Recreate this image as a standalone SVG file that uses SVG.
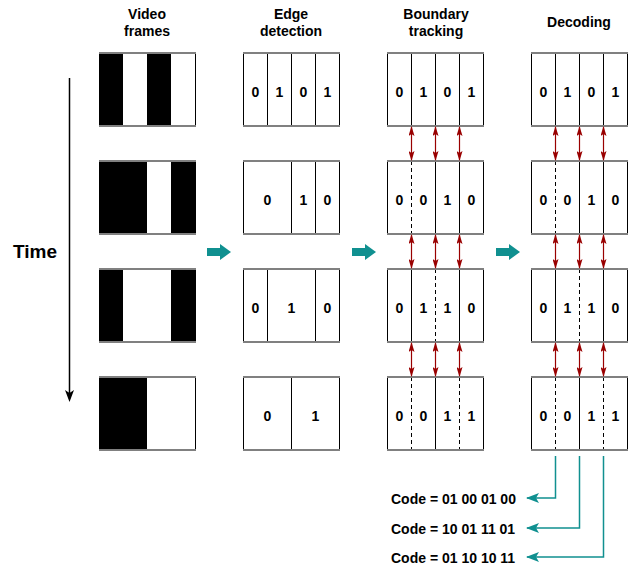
<svg xmlns="http://www.w3.org/2000/svg" width="636" height="568" viewBox="0 0 636 568">
<defs>
<style>
text{font-family:"Liberation Sans",Arial,sans-serif;font-weight:bold;fill:#000}
.hd{font-size:14px;text-anchor:middle}
.dg{font-size:14px;text-anchor:middle}
.cd{font-size:14px}
.tm{font-size:19px}
.bg{fill:#fff}
.bk{fill:#000}
.sd{stroke:#000;stroke-width:1;fill:none}
.ds{stroke:#000;stroke-width:1;fill:none;stroke-dasharray:4,3}
.tb{stroke:#808080;stroke-width:2;fill:none}
.ra{stroke:#990000;stroke-width:1.2;fill:none;marker-start:url(#rh);marker-end:url(#rh)}
.ta{stroke:#109090;stroke-width:1.5;fill:none;marker-end:url(#th)}
.blk{fill:#109090}
</style>
<marker id="rh" viewBox="0 0 10 6" refX="9" refY="3" markerWidth="10" markerHeight="6" markerUnits="userSpaceOnUse" orient="auto-start-reverse">
<path d="M0,0 L10,3 L0,6 L2,3 z" fill="#990000"/>
</marker>
<marker id="th" viewBox="0 0 13 10" refX="12" refY="5" markerWidth="13" markerHeight="10" markerUnits="userSpaceOnUse" orient="auto">
<path d="M0,0 L13,5 L0,10 L3,5 z" fill="#109090"/>
</marker>
</defs>

<g id="headers">
<text class="hd" x="147" y="19">Video</text>
<text class="hd" x="147" y="36">frames</text>
<text class="hd" x="291" y="19">Edge</text>
<text class="hd" x="291" y="36">detection</text>
<text class="hd" x="436" y="19">Boundary</text>
<text class="hd" x="436" y="36">tracking</text>
<text class="hd" x="579" y="27">Decoding</text>
</g>

<g id="time">
<line x1="69.5" y1="78" x2="69.5" y2="394" stroke="#000" stroke-width="1.5"/>
<path d="M65,390 L69.5,393 L74,390 L69.5,402 z" fill="#000"/>
<text class="tm" x="13" y="258">Time</text>
</g>

<!-- Video frames -->
<g id="video-1">
<rect class="bg" x="99" y="53" width="97" height="73"/>
<rect class="bk" x="99" y="53" width="24" height="73"/>
<rect class="bk" x="147" y="53" width="24" height="73"/>
<line class="sd" x1="195.5" y1="53" x2="195.5" y2="126"/>
<line class="tb" x1="99" y1="53" x2="196" y2="53"/>
<line class="tb" x1="99" y1="126" x2="196" y2="126"/>
</g>
<g id="video-2">
<rect class="bg" x="99" y="161" width="97" height="73"/>
<rect class="bk" x="99" y="161" width="48" height="73"/>
<rect class="bk" x="171" y="161" width="25" height="73"/>
<line class="tb" x1="99" y1="161" x2="196" y2="161"/>
<line class="tb" x1="99" y1="234" x2="196" y2="234"/>
</g>
<g id="video-3">
<rect class="bg" x="99" y="269" width="97" height="73"/>
<rect class="bk" x="99" y="269" width="24" height="73"/>
<rect class="bk" x="171" y="269" width="25" height="73"/>
<line class="tb" x1="99" y1="269" x2="196" y2="269"/>
<line class="tb" x1="99" y1="342" x2="196" y2="342"/>
</g>
<g id="video-4">
<rect class="bg" x="99" y="377" width="97" height="73"/>
<rect class="bk" x="99" y="377" width="48" height="73"/>
<line class="sd" x1="195.5" y1="377" x2="195.5" y2="450"/>
<line class="tb" x1="99" y1="377" x2="196" y2="377"/>
<line class="tb" x1="99" y1="450" x2="196" y2="450"/>
</g>

<!-- Edge detection -->
<g id="edge-1">
<path class="sd" d="M243.5,53V126M339.5,53V126M267.5,53V126M291.5,53V126M315.5,53V126"/>
<line class="tb" x1="243" y1="53" x2="340" y2="53"/>
<line class="tb" x1="243" y1="126" x2="340" y2="126"/>
<text class="dg" x="255.5" y="97">0</text><text class="dg" x="279.5" y="97">1</text><text class="dg" x="303.5" y="97">0</text><text class="dg" x="327.5" y="97">1</text>
</g>
<g id="edge-2">
<path class="sd" d="M243.5,161V234M339.5,161V234M291.5,161V234M315.5,161V234"/>
<line class="tb" x1="243" y1="161" x2="340" y2="161"/>
<line class="tb" x1="243" y1="234" x2="340" y2="234"/>
<text class="dg" x="267.5" y="205">0</text><text class="dg" x="303.5" y="205">1</text><text class="dg" x="327.5" y="205">0</text>
</g>
<g id="edge-3">
<path class="sd" d="M243.5,269V342M339.5,269V342M267.5,269V342M315.5,269V342"/>
<line class="tb" x1="243" y1="269" x2="340" y2="269"/>
<line class="tb" x1="243" y1="342" x2="340" y2="342"/>
<text class="dg" x="255.5" y="313">0</text><text class="dg" x="291.5" y="313">1</text><text class="dg" x="327.5" y="313">0</text>
</g>
<g id="edge-4">
<path class="sd" d="M243.5,377V450M339.5,377V450M291.5,377V450"/>
<line class="tb" x1="243" y1="377" x2="340" y2="377"/>
<line class="tb" x1="243" y1="450" x2="340" y2="450"/>
<text class="dg" x="267.5" y="421">0</text><text class="dg" x="315.5" y="421">1</text>
</g>

<!-- Boundary tracking -->
<g id="boundary-1">
<path class="sd" d="M387.5,53V126M483.5,53V126M411.5,53V126M435.5,53V126M459.5,53V126"/>
<line class="tb" x1="387" y1="53" x2="484" y2="53"/>
<line class="tb" x1="387" y1="126" x2="484" y2="126"/>
<text class="dg" x="399.5" y="97">0</text><text class="dg" x="423.5" y="97">1</text><text class="dg" x="447.5" y="97">0</text><text class="dg" x="471.5" y="97">1</text>
</g>
<g id="boundary-2">
<path class="sd" d="M387.5,161V234M483.5,161V234M435.5,161V234M459.5,161V234"/>
<path class="ds" d="M411.5,161V234"/>
<line class="tb" x1="387" y1="161" x2="484" y2="161"/>
<line class="tb" x1="387" y1="234" x2="484" y2="234"/>
<text class="dg" x="399.5" y="205">0</text><text class="dg" x="423.5" y="205">0</text><text class="dg" x="447.5" y="205">1</text><text class="dg" x="471.5" y="205">0</text>
</g>
<g id="boundary-3">
<path class="sd" d="M387.5,269V342M483.5,269V342M411.5,269V342M459.5,269V342"/>
<path class="ds" d="M435.5,269V342"/>
<line class="tb" x1="387" y1="269" x2="484" y2="269"/>
<line class="tb" x1="387" y1="342" x2="484" y2="342"/>
<text class="dg" x="399.5" y="313">0</text><text class="dg" x="423.5" y="313">1</text><text class="dg" x="447.5" y="313">1</text><text class="dg" x="471.5" y="313">0</text>
</g>
<g id="boundary-4">
<path class="sd" d="M387.5,377V450M483.5,377V450M435.5,377V450"/>
<path class="ds" d="M411.5,377V450M459.5,377V450"/>
<line class="tb" x1="387" y1="377" x2="484" y2="377"/>
<line class="tb" x1="387" y1="450" x2="484" y2="450"/>
<text class="dg" x="399.5" y="421">0</text><text class="dg" x="423.5" y="421">0</text><text class="dg" x="447.5" y="421">1</text><text class="dg" x="471.5" y="421">1</text>
</g>

<!-- Decoding -->
<g id="decoding-1">
<path class="sd" d="M531.5,53V126M627.5,53V126M555.5,53V126M579.5,53V126M603.5,53V126"/>
<line class="tb" x1="531" y1="53" x2="628" y2="53"/>
<line class="tb" x1="531" y1="126" x2="628" y2="126"/>
<text class="dg" x="543.5" y="97">0</text><text class="dg" x="567.5" y="97">1</text><text class="dg" x="591.5" y="97">0</text><text class="dg" x="615.5" y="97">1</text>
</g>
<g id="decoding-2">
<path class="sd" d="M531.5,161V234M627.5,161V234M579.5,161V234M603.5,161V234"/>
<path class="ds" d="M555.5,161V234"/>
<line class="tb" x1="531" y1="161" x2="628" y2="161"/>
<line class="tb" x1="531" y1="234" x2="628" y2="234"/>
<text class="dg" x="543.5" y="205">0</text><text class="dg" x="567.5" y="205">0</text><text class="dg" x="591.5" y="205">1</text><text class="dg" x="615.5" y="205">0</text>
</g>
<g id="decoding-3">
<path class="sd" d="M531.5,269V342M627.5,269V342M555.5,269V342M603.5,269V342"/>
<path class="ds" d="M579.5,269V342"/>
<line class="tb" x1="531" y1="269" x2="628" y2="269"/>
<line class="tb" x1="531" y1="342" x2="628" y2="342"/>
<text class="dg" x="543.5" y="313">0</text><text class="dg" x="567.5" y="313">1</text><text class="dg" x="591.5" y="313">1</text><text class="dg" x="615.5" y="313">0</text>
</g>
<g id="decoding-4">
<path class="sd" d="M531.5,377V450M627.5,377V450M579.5,377V450"/>
<path class="ds" d="M555.5,377V450M603.5,377V450"/>
<line class="tb" x1="531" y1="377" x2="628" y2="377"/>
<line class="tb" x1="531" y1="450" x2="628" y2="450"/>
<text class="dg" x="543.5" y="421">0</text><text class="dg" x="567.5" y="421">0</text><text class="dg" x="591.5" y="421">1</text><text class="dg" x="615.5" y="421">1</text>
</g>

<g id="codes">
<text class="cd" x="391" y="504">Code = 01 00 01 00</text>
<text class="cd" x="391" y="534">Code = 10 01 11 01</text>
<text class="cd" x="391" y="563">Code = 01 10 10 11</text>
</g>

<g id="connectors">
<polygon class="blk" points="207,248 220,248 220,244 231,252 220,260 220,256 207,256"/>
<polygon class="blk" points="352,248 365,248 365,244 376,252 365,260 365,256 352,256"/>
<polygon class="blk" points="496,248 509,248 509,244 520,252 509,260 509,256 496,256"/>
<line class="ra" x1="411.5" y1="127" x2="411.5" y2="160"/>
<line class="ra" x1="435.5" y1="127" x2="435.5" y2="160"/>
<line class="ra" x1="459.5" y1="127" x2="459.5" y2="160"/>
<line class="ra" x1="411.5" y1="235" x2="411.5" y2="268"/>
<line class="ra" x1="435.5" y1="235" x2="435.5" y2="268"/>
<line class="ra" x1="459.5" y1="235" x2="459.5" y2="268"/>
<line class="ra" x1="411.5" y1="343" x2="411.5" y2="376"/>
<line class="ra" x1="435.5" y1="343" x2="435.5" y2="376"/>
<line class="ra" x1="459.5" y1="343" x2="459.5" y2="376"/>
<line class="ra" x1="555.5" y1="127" x2="555.5" y2="160"/>
<line class="ra" x1="579.5" y1="127" x2="579.5" y2="160"/>
<line class="ra" x1="603.5" y1="127" x2="603.5" y2="160"/>
<line class="ra" x1="555.5" y1="235" x2="555.5" y2="268"/>
<line class="ra" x1="579.5" y1="235" x2="579.5" y2="268"/>
<line class="ra" x1="603.5" y1="235" x2="603.5" y2="268"/>
<line class="ra" x1="555.5" y1="343" x2="555.5" y2="376"/>
<line class="ra" x1="579.5" y1="343" x2="579.5" y2="376"/>
<line class="ra" x1="603.5" y1="343" x2="603.5" y2="376"/>
<polyline class="ta" points="555.5,456 555.5,498 527,498"/>
<polyline class="ta" points="579.5,456 579.5,528 527,528"/>
<polyline class="ta" points="603.5,456 603.5,557 527,557"/>
</g>
</svg>
